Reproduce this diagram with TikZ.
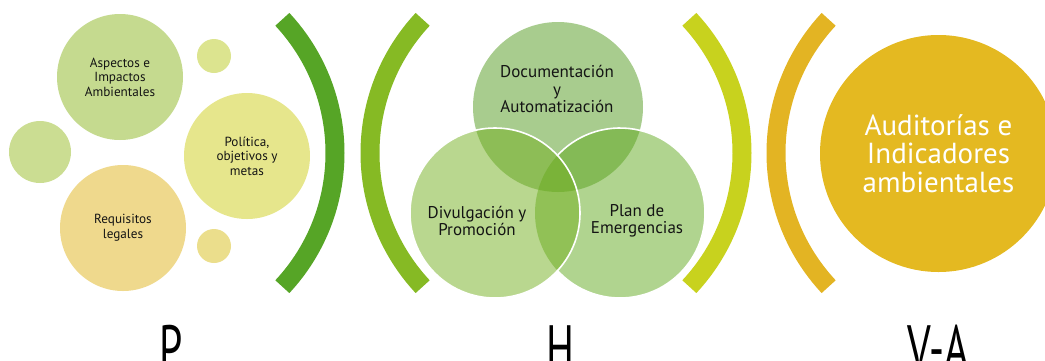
\documentclass[tikz,border=0pt]{standalone}
\usepackage{graphicx, fontspec}
\setmainfont{PT Sans}

\definecolor{arcP}{HTML}{56A526}
\definecolor{arcHl}{HTML}{86BA24}
\definecolor{arcHr}{HTML}{C8D21E}
\definecolor{arcV}{HTML}{E3B423}
\definecolor{goldC}{HTML}{E4B921}
\definecolor{aspectosC}{HTML}{C5DA8F}
\definecolor{politicaC}{HTML}{E6E68C}
\definecolor{requisitosC}{HTML}{EFD98D}
\definecolor{dotA}{HTML}{DCE48F}
\definecolor{dotB}{HTML}{CBDD92}
\definecolor{dotC}{HTML}{EBDE8C}
\definecolor{docC}{HTML}{51991D}
\definecolor{divC}{HTML}{73AF1F}
\definecolor{planC}{HTML}{61A91F}
\definecolor{inkC}{HTML}{141414}

\begin{document}
\begin{tikzpicture}[x=1pt, y=-1pt,
    bubble/.style={circle, inner sep=0pt, align=center, text=inkC},
    small/.style={bubble, font=\fontsize{13.2}{14.6}\selectfont},
    venn/.style={bubble, minimum size=170pt, fill opacity=0.5},
    venntext/.style={align=center, text=inkC, font=\fontsize{17}{17.5}\selectfont},
    vennedge/.style={white, line width=1.6pt},
    bracket/.style={line width=19pt},
    phase/.style={anchor=north, inner sep=0pt, font=\fontsize{64}{64}\selectfont}]
    \useasboundingbox (0,0) rectangle (1045,360);
    \clip (0,0) rectangle (1045,360);

    \node[small, minimum size=126pt, fill=aspectosC] (aspectos) at (120,77) {Aspectos e\\Impactos\\Ambientales};
    \node[small, minimum size=62pt, fill=dotB] (dotleft) at (40,152) {};
    \node[small, minimum size=126pt, fill=requisitosC] (requisitos) at (123,228) {Requisitos\\legales};
    \node[small, minimum size=34pt, fill=dotA] (dottop) at (214,56) {};
    \node[small, minimum size=34pt, fill=dotC] (dotbottom) at (214,246) {};
    \node[small, minimum size=126pt, fill=politicaC] (politica) at (247,156) {Política,\\objetivos y\\metas};

    \draw[bracket, arcP] (139,153) ++(-43:196pt) arc[start angle=-43, end angle=43, radius=196pt];
    \draw[bracket, arcHl] (566,153) ++(137:196pt) arc[start angle=137, end angle=223, radius=196pt];

    \node[venn, fill=docC] (documentacion) at (558,107) {};
    \node[venn, fill=planC] (plan) at (620,213) {};
    \node[venn, fill=divC] (divulgacion) at (495,213) {};
    \draw[vennedge] (divulgacion.center) circle (85pt);
    \draw[vennedge] (plan.center) ++(-137.3:85pt) arc[start angle=-137.3, end angle=137.3, radius=85pt];
    \node[venntext] (doctext) at (557,89) {Documentación\\y\\Automatización};
    \node[venntext] (divtext) at (477,221) {Divulgación y\\Promoción};
    \node[venntext] (plantext) at (637,221) {Plan de\\Emergencias};

    \draw[bracket, arcHr] (546,153) ++(-43:196pt) arc[start angle=-43, end angle=43, radius=196pt];
    \draw[bracket, arcV] (972,153) ++(137:196pt) arc[start angle=137, end angle=223, radius=196pt];

    \node[bubble, minimum size=237pt, fill=goldC, text=white, font=\fontsize{29}{28.5}\selectfont] (auditorias) at (938.5,153.5) {Auditorías e\\Indicadores\\ambientales};

    \node[phase] (p) at (171,325) {\scalebox{0.65}[1]{P}};
    \node[phase] (h) at (560,325) {\scalebox{0.65}[1]{H}};
    \node[phase] (va) at (938,325) {\scalebox{0.65}[1]{V-A}};
\end{tikzpicture}
\end{document}
